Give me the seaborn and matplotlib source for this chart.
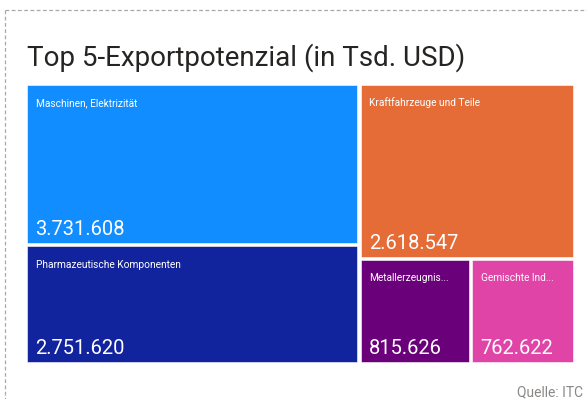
import matplotlib
matplotlib.use("Agg")
import matplotlib.pyplot as plt
from matplotlib.patches import Rectangle
import seaborn as sns

# ---- data ----
categories = ["Maschinen, Elektrizität", "Pharmazeutische Komponenten",
              "Kraftfahrzeuge und Teile", "Metallerzeugnis...", "Gemischte Ind..."]
values = [3731608, 2751620, 2618547, 815626, 762622]
value_labels = ["3.731.608", "2.751.620", "2.618.547", "815.626", "762.622"]
colors = ["#118DFF", "#12239E", "#E66C37", "#6B007B", "#E044A7"]
# treemap grouping (indices into the lists above), alternating split direction
structure = [[0, 1], [2, [3, 4]]]

title = "Top 5-Exportpotenzial (in Tsd. USD)"
source = "Quelle: ITC"

sns.set_style("white")
plt.rcParams["font.family"] = ["Roboto", "DejaVu Sans"]

W, H = 587, 399
fig = plt.figure(figsize=(W / 100, H / 100), dpi=100)
ax = fig.add_axes([0, 0, 1, 1])
ax.set_xlim(0, W)
ax.set_ylim(H, 0)
ax.axis("off")

# dashed frame
ax.plot([5, 5], [10, H + 5], color="#A8A8A8", lw=0.9, ls=(0, (3, 2)))
ax.plot([5, W + 5], [10, 10], color="#A8A8A8", lw=0.9, ls=(0, (3, 2)))

ax.text(27, 66, title, fontsize=20, color="#252423", va="baseline", ha="left")


def total(node):
    if isinstance(node, int):
        return values[node]
    return sum(total(c) for c in node)


rects = {}


def layout(node, x, y, w, h, horiz):
    if isinstance(node, int):
        rects[node] = (x, y, w, h)
        return
    s = total(node)
    off = 0.0
    for child in node:
        t = total(child)
        if horiz:
            cw = w * t / s
            layout(child, x + off, y, cw, h, not horiz)
            off += cw
        else:
            ch = h * t / s
            layout(child, x, y + off, w, ch, not horiz)
            off += ch


area_x0, area_y0, area_x1, area_y1 = 25.3, 83.3, 574.7, 363.7
layout(structure, area_x0, area_y0, area_x1 - area_x0, area_y1 - area_y0, True)

pad = 1.7
for i, (x, y, w, h) in rects.items():
    x0, y0, w0, h0 = x + pad, y + pad, w - 2 * pad, h - 2 * pad
    ax.add_patch(Rectangle((x0, y0), w0, h0, facecolor=colors[i],
                           edgecolor="white", linewidth=0.4, alpha=1))
    ax.text(x0 + 8.5, y0 + 21.5, categories[i], fontsize=7.3, color="white",
            va="baseline", ha="left")
    ax.text(x0 + 8.5, y0 + h0 - 8, value_labels[i], fontsize=14.5, color="white",
            va="baseline", ha="left")

ax.text(583, 396, source, fontsize=10, color="#8A8886", va="baseline", ha="right")

fig.savefig("out.png", dpi=100)
